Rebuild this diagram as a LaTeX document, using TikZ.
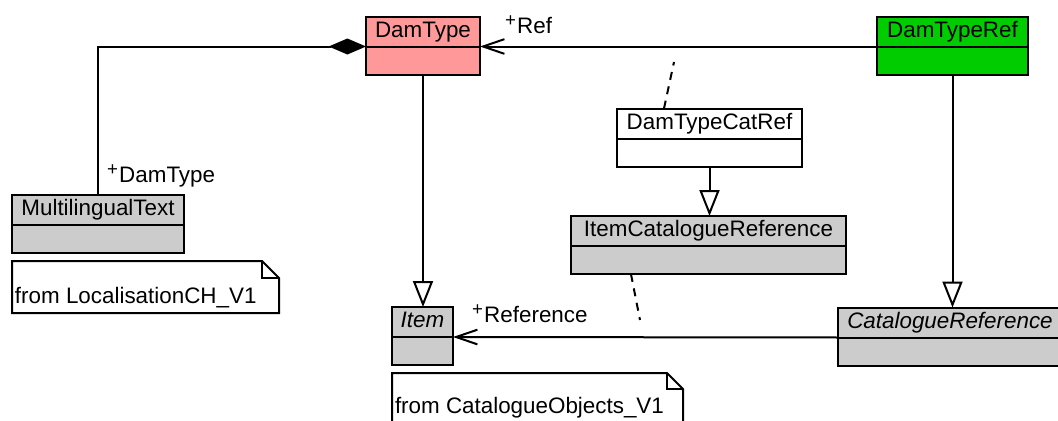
\documentclass[tikz,border=0pt]{standalone}
\usepackage{fontspec}
\setmainfont{Liberation Sans}
\usetikzlibrary{arrows.meta}
\usetikzlibrary{positioning}
\usetikzlibrary{calc}

\definecolor{damred}{RGB}{255,153,153}
\definecolor{damgreen}{RGB}{0,204,0}
\definecolor{umlgray}{RGB}{204,204,204}

\newcommand{\plussign}{\raisebox{.3em}{\fontsize{14}{14}\selectfont+}\hspace{1pt}}

\begin{document}
\begin{tikzpicture}
	[x=0.75pt,y=-0.75pt,line width=1.5pt,
	every node/.style={font=\fontsize{16.8}{20}\selectfont},
	head/.style={draw,rectangle,inner sep=0pt,outer sep=0pt,minimum height=22.5pt,text height=12pt,text depth=3.5pt},
	body/.style={draw,rectangle,inner sep=0pt,outer sep=0pt,minimum height=21pt},
	gen/.style={-{Triangle[open,length=19.5pt,width=15pt]}},
	assoc/.style={-{Straight Barb[length=16pt,width=11pt]}},
	compo/.style={-{Diamond[length=28pt,width=12pt]}},
	link/.style={dash pattern=on 6pt off 5pt},
	role/.style={anchor=base west,inner sep=0pt}]
	\useasboundingbox (0,0) rectangle (1058,421);

	% classes
	\node[head,fill=damred,minimum width=85.5pt] (dt) at (423,31.5) {DamType};
	\node[body,fill=damred,minimum width=85.5pt,below=0pt of dt] (dt-b) {};
	\node[head,fill=damgreen,minimum width=113.25pt] (dtr) at (952.5,31.5) {DamTypeRef};
	\node[body,fill=damgreen,minimum width=113.25pt,below=0pt of dtr] (dtr-b) {};
	\node[head,fill=umlgray,minimum width=129pt] (ml) at (98,209.5) {MultilingualText};
	\node[body,fill=umlgray,minimum width=129pt,below=0pt of ml] (ml-b) {};
	\node[head,fill=white,minimum width=138.75pt] (dtcr) at (709.5,123.5) {DamTypeCatRef};
	\node[body,fill=white,minimum width=138.75pt,below=0pt of dtcr] (dtcr-b) {};
	\node[head,fill=umlgray,minimum width=206.25pt] (icr) at (708.5,231) {ItemCatalogueReference};
	\node[body,fill=umlgray,minimum width=206.25pt,below=0pt of icr] (icr-b) {};
	\node[head,fill=umlgray,minimum width=45.75pt] (it) at (422.5,322) {\itshape Item};
	\node[body,fill=umlgray,minimum width=45.75pt,below=0pt of it] (it-b) {};
	\node[head,fill=umlgray,minimum width=168pt] (cr) at (950,322.5) {\itshape CatalogueReference};
	\node[body,fill=umlgray,minimum width=168pt,below=0pt of cr] (cr-b) {};

	% notes
	\draw[fill=white] (12,261) -- (262,261) -- (279,278) -- (279,313) -- (12,313) -- cycle;
	\draw (262,261) -- (262,278) -- (279,278);
	\node[role] (n1) at (14,303) {from LocalisationCH\_V1};
	\draw[fill=white] (392,373) -- (667,373) -- (683,389) -- (683,440) -- (392,440) -- cycle;
	\draw (667,373) -- (667,389) -- (683,389);
	\node[role] (n2) at (394,413) {from CatalogueObjects\_V1};

	% connectors
	\draw[compo] (ml.north) |- (dt-b.north west);
	\draw[assoc] (dtr-b.north west) -- (dt-b.north east);
	\draw[assoc] (cr-b.north west) -- (it-b.north east);
	\draw[gen] (dt-b.south) -- (dt-b.south |- it.north);
	\draw[gen] (dtr-b.south) -- (dtr-b.south |- cr.north);
	\draw[gen] (dtcr-b.south) -- (dtcr-b.south |- icr.north);

	\coordinate (reflink) at (674,62);
	\coordinate (crlink) at (640,320);
	\draw[link] ($(dtcr.north west)!0.254!(dtcr.north east)$) -- (reflink);
	\draw[link] ($(icr-b.south west)!0.218!(icr-b.south east)$) -- (crlink);

	% role names
	\node[role] (r1) at (106,182) {\plussign DamType};
	\node[role] (r2) at (504,33) {\plussign Ref};
	\node[role] (r3) at (471,322) {\plussign Reference};
\end{tikzpicture}
\end{document}
